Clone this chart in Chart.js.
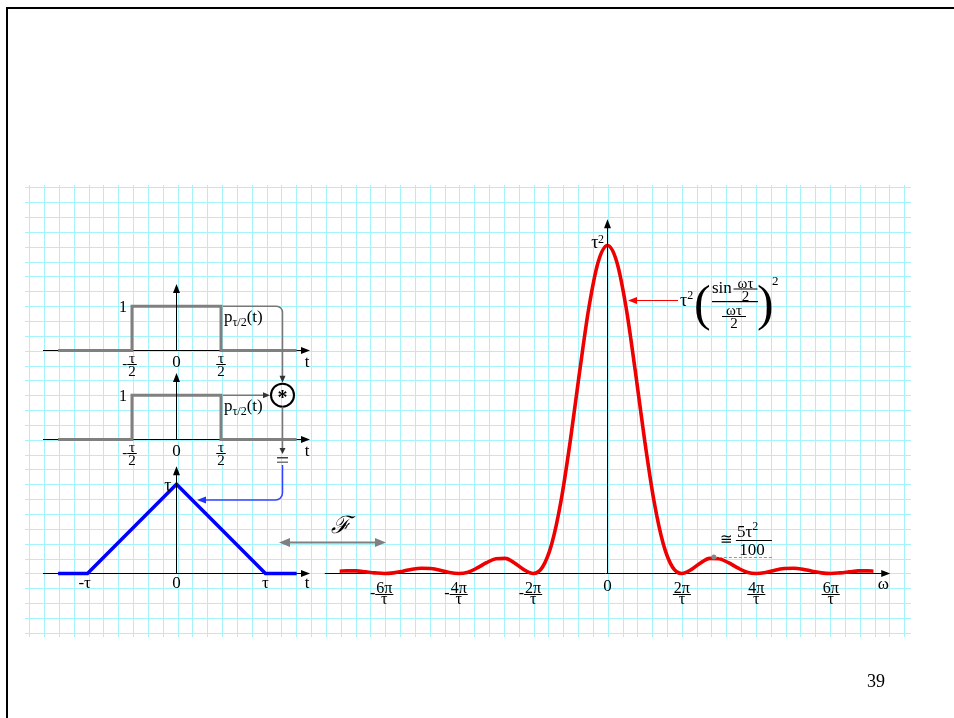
<!DOCTYPE html>
<html lang="en">
<head>
<meta charset="UTF-8">
<title>Autocorrelation of a rectangular pulse</title>
<script src="https://cdn.jsdelivr.net/npm/chart.js"></script>
<style>
  body { margin: 0; background: #fff; }
  #slide { position: relative; width: 954px; height: 718px; overflow: hidden; background: #fff; }
  #slide canvas { position: absolute; }
  .frame { position: absolute; left: 6px; top: 7px; width: 1000px; height: 800px;
           border-left: 2px solid #000; border-top: 2px solid #000; }
</style>
</head>
<body>
<div id="slide">
  <div class="frame"></div>
  <canvas id="grid" width="886" height="452" style="left:25px;top:185px"></canvas>
  <canvas id="pulseA" width="290" height="110" style="left:30px;top:270px"></canvas>
  <canvas id="pulseB" width="290" height="110" style="left:30px;top:359px"></canvas>
  <canvas id="tri" width="290" height="150" style="left:30px;top:455px"></canvas>
  <canvas id="spec" width="620" height="420" style="left:300px;top:200px"></canvas>
  <canvas id="notes" width="954" height="718" style="left:0;top:0"></canvas>
</div>

<script>
const serif = '"Liberation Serif", "DejaVu Serif", serif';

// rectangular pulse p_{τ/2}(t), t in units of τ
const tPulse = [-1.33, -0.5, -0.5, 0.5, 0.5, 1.35];
const pPulse = [0, 0, 1, 1, 0, 0];
const pulseTicks = [-0.5, 0, 0.5];
const pulseTickLabels = ['-τ/2', '0', 'τ/2'];

// p * p : triangle, t in units of τ, height in units of τ
const tTri = [-1.33, -1, 0, 1, 1.35];
const vTri = [0, 0, 1, 0, 0];
const triTicks = [-1, 0, 1];
const triTickLabels = ['-τ', '0', 'τ'];

// its transform, ω in units of π/τ, magnitude in units of τ²
const omega = [-7.2, -7, -6.75, -6.5, -6.25, -6, -5.75, -5.5, -5.25, -5, -4.75, -4.5, -4.25, -4,
  -3.75, -3.5, -3.25, -3, -2.75, -2.5, -2.25, -2, -1.75, -1.5, -1.25, -1, -0.75, -0.5, -0.25, 0,
  0.25, 0.5, 0.75, 1, 1.25, 1.5, 1.75, 2, 2.25, 2.5, 2.75, 3, 3.25, 3.5, 3.75, 4,
  4.25, 4.5, 4.75, 5, 5.25, 5.5, 5.75, 6, 6.25, 6.5, 6.75, 7, 7.15];
const spectrum = [0.007, 0.008, 0.008, 0.005, 0.002, 0, 0.002, 0.007, 0.013, 0.016, 0.015, 0.010, 0.003, 0,
  0.004, 0.017, 0.033, 0.045, 0.046, 0.032, 0.012, 0, 0.019, 0.090, 0.221, 0.405, 0.615, 0.811, 0.950, 1,
  0.950, 0.811, 0.615, 0.405, 0.221, 0.090, 0.019, 0, 0.012, 0.032, 0.046, 0.045, 0.033, 0.017, 0.004, 0,
  0.003, 0.010, 0.015, 0.016, 0.013, 0.007, 0.002, 0, 0.002, 0.005, 0.008, 0.008, 0.007];
const specTicks = [-6, -4, -2, 0, 2, 4, 6];
const specTickLabels = ['-6π/τ', '-4π/τ', '-2π/τ', '0', '2π/τ', '4π/τ', '6π/τ'];
// first side lobe, marked as ≅ 5τ²/100
const sideLobe = { w: 2.86, s: 0.05 };

// ---------- drawing helpers ----------
function arrowHead(ctx, x, y, dir, len, half, color) {
  ctx.save();
  ctx.fillStyle = color;
  ctx.translate(x, y);
  ctx.rotate({ r: 0, d: Math.PI / 2, l: Math.PI, u: -Math.PI / 2 }[dir]);
  ctx.beginPath();
  ctx.moveTo(0, 0); ctx.lineTo(-len, -half); ctx.lineTo(-len, half);
  ctx.closePath(); ctx.fill();
  ctx.restore();
}

function text(ctx, s, x, y, size, opt = {}) {
  ctx.font = (opt.style || '') + ' ' + size + 'px ' + serif;
  ctx.fillStyle = opt.color || '#000';
  ctx.textAlign = opt.align || 'center';
  ctx.textBaseline = 'alphabetic';
  ctx.fillText(s, x, y);
  return ctx.measureText(s).width;
}

function frac(ctx, num, den, x, yBar, size, barW) {
  ctx.font = size + 'px ' + serif;
  const mn = ctx.measureText(num), md = ctx.measureText(den);
  const w = barW || Math.max(mn.width, md.width) + 2;
  ctx.fillStyle = '#000';
  ctx.textAlign = 'center';
  ctx.textBaseline = 'alphabetic';
  ctx.fillText(num, x, yBar - 1.5 - mn.actualBoundingBoxDescent);
  ctx.fillText(den, x, yBar + 1.8 + md.actualBoundingBoxAscent);
  ctx.fillRect(x - w / 2, yBar - 0.5, w, 1);
  return w;
}

function tickLabel(ctx, label, px, y0, o) {
  const neg = label[0] === '-';
  const body = neg ? label.slice(1) : label;
  if (body.includes('/')) {
    const [num, den] = body.split('/');
    const w = frac(ctx, num, den, px, y0 + o.barDy, o.fracSize);
    if (neg) text(ctx, '-', px - w / 2, y0 + o.barDy + 3.5, o.fracSize, { align: 'right' });
  } else {
    const w = text(ctx, body, px, y0 + o.textDy, o.size);
    if (neg) text(ctx, '-', px - w / 2, y0 + o.textDy, o.size, { align: 'right' });
  }
}

// axes with arrows, tick labels and extra captions
function decor(o) {
  return {
    id: 'decor',
    beforeDatasetsDraw(chart) {
      const { ctx, chartArea: a, scales: { y } } = chart;
      const y0 = Math.floor(y.getPixelForValue(0)) + 0.5;
      ctx.save();
      ctx.strokeStyle = '#000';
      ctx.lineWidth = 1;
      ctx.beginPath(); ctx.moveTo(a.left, y0); ctx.lineTo(a.right - 4, y0); ctx.stroke();
      arrowHead(ctx, a.right, y0, 'r', 9, 3.5, '#000');
      ctx.restore();
    },
    afterDatasetsDraw(chart) {
      const { ctx, chartArea: a, scales: { x, y } } = chart;
      const y0 = Math.floor(y.getPixelForValue(0)) + 0.5;
      const x0 = Math.floor(x.getPixelForValue(0)) + 0.5;
      ctx.save();
      ctx.strokeStyle = '#000';
      ctx.lineWidth = 1;
      ctx.beginPath(); ctx.moveTo(x0, y0); ctx.lineTo(x0, a.top + 4); ctx.stroke();
      arrowHead(ctx, x0, a.top, 'u', 9, 3.5, '#000');
      o.ticks.forEach((t, i) => tickLabel(ctx, o.labels[i], x.getPixelForValue(t), y0, o));
      text(ctx, o.varName, a.right - o.varDx, y0 + o.varDy, 17);
      if (o.extra) o.extra(ctx, x, y, x0);
      ctx.restore();
    }
  };
}

function plot(id, xr, yr, pad, datasets, deco) {
  return new Chart(document.getElementById(id), {
    type: 'line',
    data: { datasets },
    options: {
      responsive: false,
      animation: false,
      devicePixelRatio: 1,
      events: [],
      layout: { padding: pad },
      plugins: { legend: { display: false }, tooltip: { enabled: false } },
      elements: { point: { radius: 0 }, line: { tension: 0, borderJoinStyle: 'miter' } },
      scales: {
        x: { type: 'linear', min: xr[0], max: xr[1], display: false },
        y: { type: 'linear', min: yr[0], max: yr[1], display: false }
      }
    },
    plugins: [deco]
  });
}

const xy = (xs, ys) => xs.map((v, i) => ({ x: v, y: ys[i] }));

// ---------- background grid ----------
(function () {
  const g = document.getElementById('grid').getContext('2d');
  g.strokeStyle = '#a3f4fb';
  g.lineWidth = 1;
  g.beginPath();
  for (let k = 0; k <= 59; k++) {
    const x = Math.round(4.3 + k * 14.83) + 0.5;
    g.moveTo(x, 0); g.lineTo(x, 452);
  }
  for (let k = 0; k <= 30; k++) {
    const y = Math.round(2.3 + k * 14.85) + 0.5;
    g.moveTo(0, y); g.lineTo(886, y);
  }
  g.stroke();
})();

// ---------- the two pulses ----------
function pulseCaption(ctx, x, y) {
  const lvl = y.getPixelForValue(1);
  const xl = x.getPixelForValue(-0.5), xr = x.getPixelForValue(0.5);
  text(ctx, '1', xl - 5, lvl + 6, 16, { align: 'right' });
  let cx = xr + 3;
  cx += text(ctx, 'p', cx, lvl + 16, 17, { align: 'left' });
  cx += text(ctx, 'τ/2', cx, lvl + 20, 12, { align: 'left' });
  text(ctx, '(t)', cx, lvl + 16, 17, { align: 'left' });
}

const pulseOpts = {
  ticks: pulseTicks, labels: pulseTickLabels, size: 17, fracSize: 15,
  textDy: 16.3, barDy: 14, varName: 't', varDx: 3, varDy: 16.5, extra: pulseCaption
};
const pulseSet = () => [{ data: xy(tPulse, pPulse), borderColor: '#808080', borderWidth: 3 }];

const pulseA = plot('pulseA', [-1.5, 1.5], [-0.1, 1.5],
  { left: 13, right: 10, top: 14, bottom: 25.1 }, pulseSet(), decor(pulseOpts));
const pulseB = plot('pulseB', [-1.5, 1.5], [-0.1, 1.5],
  { left: 13, right: 10, top: 14, bottom: 25.1 }, pulseSet(), decor(pulseOpts));

// ---------- triangle ----------
const tri = plot('tri', [-1.5, 1.5], [-0.1, 1.2],
  { left: 13, right: 10, top: 11.34, bottom: 22.57 },
  [{ data: xy(tTri, vTri), borderColor: '#0000ff', borderWidth: 3.5 }],
  decor({
    ticks: triTicks, labels: triTickLabels, size: 17, fracSize: 15,
    textDy: 14.5, barDy: 14, varName: 't', varDx: 3, varDy: 14.5,
    extra(ctx, x, y, x0) {
      text(ctx, 'τ', x0 - 5, y.getPixelForValue(1) + 7, 18, { align: 'right' });
    }
  }));

// ---------- spectrum ----------
const mainLobe = xy(omega, spectrum).filter(p => Math.abs(p.x) <= 1.75);
const spec = plot('spec', [-7.6, 7.6], [-0.1, 1.08],
  { left: 24.78, right: 29.78, top: 19.26, bottom: 13.7 },
  [
    { data: xy(omega, spectrum), borderColor: '#ee0000', borderWidth: 3.6, cubicInterpolationMode: 'monotone' },
    { data: mainLobe, borderColor: 'rgba(60,0,0,0.8)', borderWidth: 1.6, cubicInterpolationMode: 'monotone' }
  ],
  decor({
    ticks: specTicks, labels: specTickLabels, size: 17, fracSize: 16,
    textDy: 17, barDy: 21, varName: 'ω', varDx: 7, varDy: 15,
    extra(ctx, x, y, x0) {
      const top = y.getPixelForValue(1);
      const w = text(ctx, 'τ', x0 - 9, top + 2.5, 18, { align: 'right' });
      text(ctx, '2', x0 - 9.5, top - 3, 12, { align: 'left' });
    }
  }));

// ---------- annotations across the plots ----------
const pageXY = (c, xv, yv) => [c.canvas.offsetLeft + c.scales.x.getPixelForValue(xv),
                               c.canvas.offsetTop + c.scales.y.getPixelForValue(yv)];
const n = document.getElementById('notes').getContext('2d');

// p * p : the two pulses feed the convolution node
const [ax, ay] = pageXY(pulseA, 0.5, 1);
const [bx, by] = pageXY(pulseB, 0.5, 1);
const cx = 282.5, cr = 11.5, cy = by;
n.strokeStyle = '#777';
n.lineWidth = 1.5;
n.beginPath();
n.moveTo(ax + 2, ay); n.lineTo(cx - 6, ay); n.arcTo(cx, ay, cx, ay + 6, 6); n.lineTo(cx, cy - cr - 6);
n.stroke();
arrowHead(n, cx, cy - cr - 1, 'd', 7, 3, '#333');
n.beginPath(); n.moveTo(bx + 2, by); n.lineTo(cx - cr - 6, by); n.stroke();
arrowHead(n, cx - cr - 1, by, 'r', 7, 3, '#333');
n.strokeStyle = '#000';
n.lineWidth = 2;
n.beginPath(); n.arc(cx, cy, cr, 0, 2 * Math.PI); n.stroke();
text(n, '*', cx, cy + 9, 20, { style: 'bold' });

n.strokeStyle = '#777';
n.lineWidth = 1.5;
n.beginPath(); n.moveTo(cx, cy + cr); n.lineTo(cx, 449); n.stroke();
arrowHead(n, cx, 454, 'd', 6, 3, '#333');
n.fillStyle = '#444'; n.fillRect(cx - 5.5, 457, 11, 1.5);
n.fillStyle = '#777'; n.fillRect(cx - 5.5, 461.5, 11, 1.5);

// result goes to the triangle
n.strokeStyle = '#3344ff';
n.lineWidth = 1.5;
n.beginPath();
n.moveTo(cx, 465); n.lineTo(cx, 493); n.arcTo(cx, 500, cx - 7, 500, 7); n.lineTo(205, 500);
n.stroke();
arrowHead(n, 197, 500, 'l', 9, 3.5, '#2233ff');

// Fourier pair arrow
n.strokeStyle = '#808080';
n.lineWidth = 2;
n.beginPath(); n.moveTo(288, 542.5); n.lineTo(377, 542.5); n.stroke();
arrowHead(n, 279, 542.5, 'l', 11, 4.5, '#808080');
arrowHead(n, 386, 542.5, 'r', 11, 4.5, '#808080');
text(n, 'ℱ', 341, 533, 24, { style: 'italic' });

// closed form of the spectrum
n.strokeStyle = '#ff0000';
n.lineWidth = 1.2;
n.beginPath(); n.moveTo(678, 300.5); n.lineTo(634, 300.5); n.stroke();
arrowHead(n, 628, 300.5, 'l', 9, 3.5, '#ff0000');
let fx = 680;
fx += text(n, 'τ', fx, 306, 18, { align: 'left' });
text(n, '2', fx, 299, 12, { align: 'left' });
text(n, '(', 694, 320, 50, { align: 'left' });
text(n, 'sin', 712, 293, 17, { align: 'left' });
frac(n, 'ωτ', '2', 745.5, 289, 15, 24);
n.fillRect(712, 301, 46, 1.2);
frac(n, 'ωτ', '2', 734, 316.5, 15, 24);
text(n, ')', 757, 320, 50, { align: 'left' });
text(n, '2', 772, 285, 13, { align: 'left' });

// first side lobe height
const [sx, sy] = pageXY(spec, sideLobe.w, sideLobe.s);
n.strokeStyle = '#999';
n.lineWidth = 1;
n.setLineDash([3, 2]);
n.beginPath(); n.moveTo(sx, Math.round(sy) + 0.5); n.lineTo(sx + 60, Math.round(sy) + 0.5); n.stroke();
n.setLineDash([]);
n.fillStyle = '#888';
n.beginPath(); n.arc(sx, sy, 2.5, 0, 2 * Math.PI); n.fill();
text(n, '≅', sx + 13, 544, 15);
let lx = sx + 23;
lx += text(n, '5τ', lx, 537, 17, { align: 'left' });
text(n, '2', lx, 530, 12, { align: 'left' });
n.fillStyle = '#000';
n.fillRect(sx + 22, 540, 36, 1);
text(n, '100', sx + 38, 555, 17);

// slide number
text(n, '39', 876, 687, 18);
</script>
</body>
</html>
